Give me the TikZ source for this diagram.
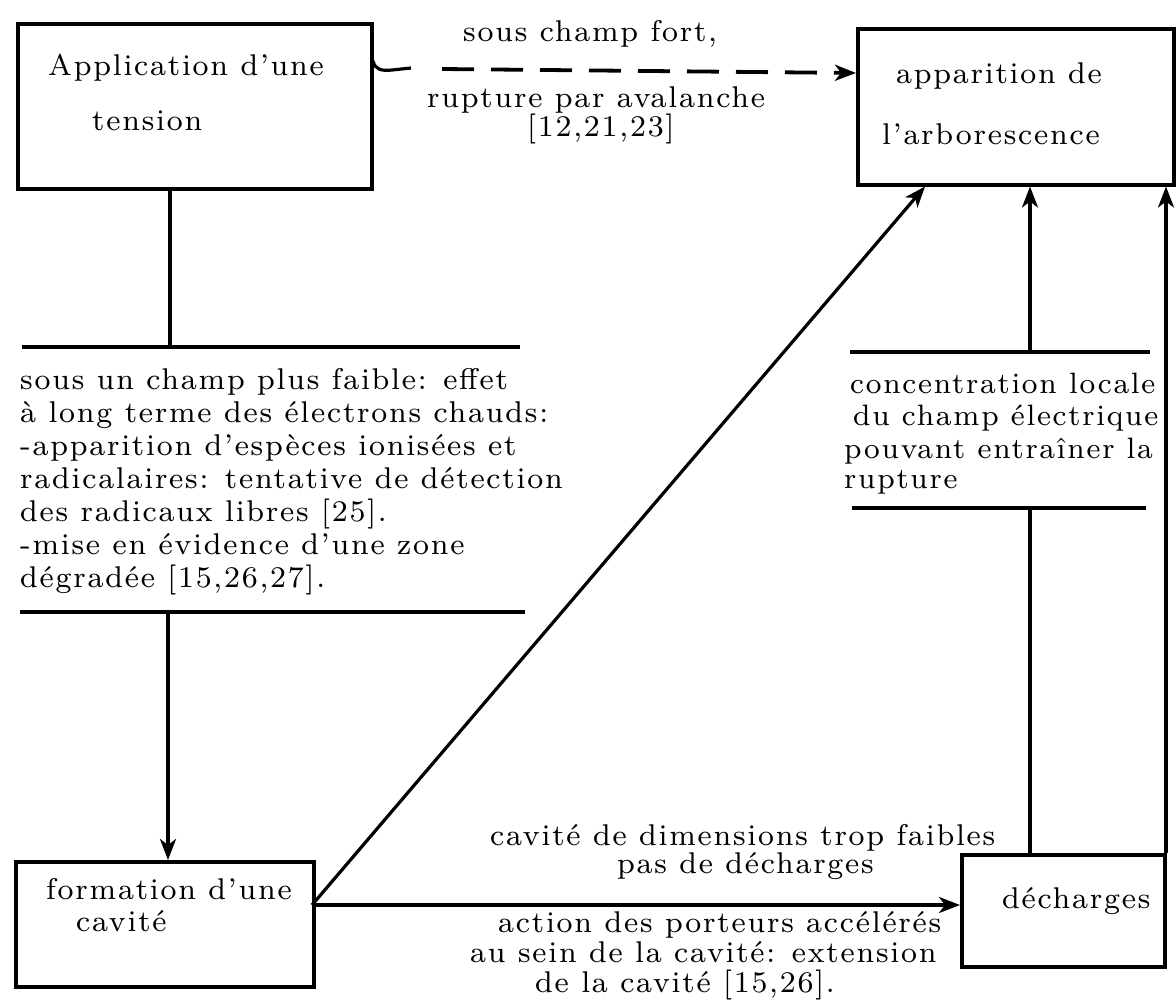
\documentclass[tikz,border=0pt]{standalone}
\usepackage{fontspec}
\usetikzlibrary{arrows.meta}
\newfontfamily\dfont{lmroman8-regular.otf}[LetterSpace=6]
\newcommand\dtxt{\dfont\fontsize{30}{33}\selectfont}
\begin{document}
\begin{tikzpicture}[x=1pt,y=-1pt,
  box/.style={draw,line width=3.5pt,inner sep=0pt,rectangle,anchor=north west},
  lbl/.style={font=\dtxt,inner sep=0pt,anchor=base west},
  narrow/.style={font=\dfont\fontsize{29.5}{33}\selectfont},
  conn/.style={line width=3.2pt},
  tip/.style={-{Stealth[length=21pt,width=16pt,inset=6pt]}},
  arr/.style={conn,tip},
  bar/.style={line width=3.5pt},
  dsh/.style={line width=3.8pt,dash pattern=on 32pt off 17pt}
]
\useasboundingbox (0,0) rectangle (1176,1001);

% boxes
\node[box,minimum width=354pt,minimum height=165pt] (app) at (16,22) {};
\node[box,minimum width=316pt,minimum height=156pt] (arb) at (856,27) {};
\node[box,minimum width=298pt,minimum height=125pt] (cav) at (14,860) {};
\node[box,minimum width=203pt,minimum height=112pt] (dec) at (960,853) {};

% box texts
\node[lbl] (t_app1) at (48,75) {Application d’une};
\node[lbl] (t_app2) at (92,130) {tension};
\node[lbl] (t_arb1) at (896,83) {apparition de};
\node[lbl] (t_arb2) at (882,144) {l’arborescence};
\node[lbl] (t_cav1) at (46,899) {formation d’une};
\node[lbl] (t_cav2) at (76,931) {cavité};
\node[lbl] (t_dec) at (1002,908) {décharges};

% dashed connection (strong field)
\coordinate (h0) at (373,61);
\coordinate (h1) at (411,68);
\coordinate (h2) at (442,69);
\coordinate (h3) at (856,73);
\draw[conn] (h0) .. controls (375,70) and (382,71) .. (392,70) -- (h1);
\draw[dsh,tip] (h2) -- (h3 -| arb.west);
\node[lbl] (l_fort) at (463,41) {sous champ fort,};
\node[lbl] (l_rup) at (427,107) {rupture par avalanche};
\node[lbl] (l_ref1) at (527,136) {[12,21,23]};

% left column: tension -> bar A, text, bar B -> cavity
\coordinate (A1) at (170,347);
\coordinate (B1) at (168,612);
\draw[conn] (A1 |- app.south) -- (A1);
\draw[bar] (22,347) -- (520,347);
\node[lbl] (m1) at (20,389) {sous un champ plus faible: effet};
\node[lbl] (m2) at (20,422) {à long terme des électrons chauds:};
\node[lbl] (m3) at (20,455) {-apparition d’espèces ionisées et};
\node[lbl] (m4) at (20,488) {radicalaires: tentative de détection};
\node[lbl] (m5) at (20,521) {des radicaux libres [25].};
\node[lbl] (m6) at (20,554) {-mise en évidence d’une zone};
\node[lbl] (m7) at (20,587) {dégradée [15,26,27].};
\draw[bar] (20,612) -- (525,612);
\draw[arr] (B1) -- (B1 |- cav.north);

% cavity -> arborescence (diagonal) and cavity -> discharges
\coordinate (cx) at (312,905);
\coordinate (d1) at (925,0);
\draw[arr] (cx) -- (d1 |- arb.south);
\draw[arr] (cx) -- (cx -| dec.west);
\node[lbl] (b1) at (490,845) {cavité de dimensions trop faibles};
\node[lbl] (b2) at (617,873) {pas de décharges};
\node[lbl] (b3) at (498,932) {action des porteurs accélérés};
\node[lbl] (b4) at (470,962) {au sein de la cavité: extension};
\node[lbl] (b5) at (535,992) {de la cavité [15,26].};

% right column
\coordinate (D1) at (1030,352);
\coordinate (C1) at (1030,508);
\coordinate (r1) at (1166,0);
\draw[conn] (C1 |- dec.north) -- (C1);
\draw[bar] (852,508) -- (1146,508);
\node[lbl,narrow] (r_1) at (850,393) {concentration locale};
\node[lbl,narrow] (r_2) at (853,425) {du champ électrique};
\node[lbl,narrow] (r_3) at (844,458) {pouvant entraîner la};
\node[lbl,narrow] (r_4) at (844,488) {rupture};
\draw[bar] (850,352) -- (1150,352);
\draw[arr] (D1) -- (D1 |- arb.south);
\draw[arr] (r1 |- dec.north) -- (r1 |- arb.south);
\end{tikzpicture}
\end{document}
